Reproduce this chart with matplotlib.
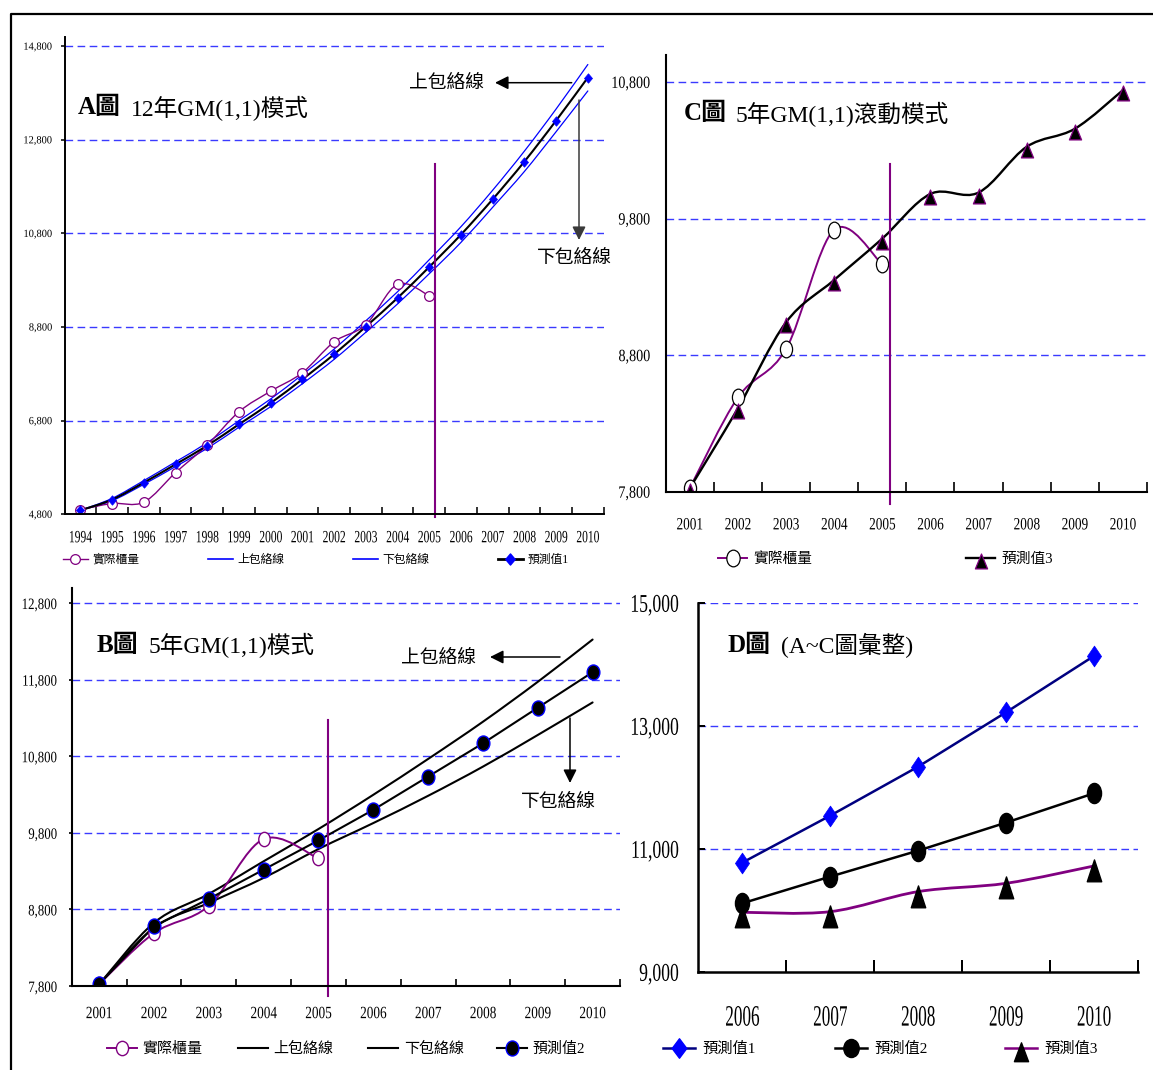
import numpy as np
import matplotlib
matplotlib.use("Agg")
import matplotlib.pyplot as plt
from matplotlib.path import Path
from matplotlib.patches import PathPatch
from matplotlib.lines import Line2D
from matplotlib.patheffects import AbstractPathEffect
from matplotlib.transforms import Affine2D

FONT = ['Liberation Serif', 'Noto Sans CJK TC']
plt.rcParams['font.family'] = FONT
plt.rcParams['axes.unicode_minus'] = False

W, H = 1153, 1070

# ---------------- data ----------------
years_a = [1994, 1995, 1996, 1997, 1998, 1999, 2000, 2001, 2002, 2003,
           2004, 2005, 2006, 2007, 2008, 2009, 2010]
actual_a = [4900, 5030, 5060, 5690, 6280, 6990, 7430, 7825, 8485, 8850, 9716, 9470]
pred1_a = [4885, 5114, 5477, 5868, 6268, 6723, 7178, 7685, 8219, 8811,
           9422, 10085, 10776, 11531, 12337, 13213, 14131]
upper_a = [4885, 5140, 5520, 5920, 6330, 6800, 7265, 7785, 8330, 8935,
           9555, 10240, 10945, 11725, 12560, 13460, 14410]
lower_a = [4885, 5090, 5440, 5820, 6210, 6660, 7100, 7590, 8110, 8690,
           9295, 9940, 10610, 11360, 12125, 12975, 13845]

years_bc = [2001, 2002, 2003, 2004, 2005, 2006, 2007, 2008, 2009, 2010]
actual_bc = [7825, 8490, 8845, 9718, 9465]
pred2_b = [7822, 8581, 8937, 9319, 9701, 10100, 10534, 10968, 11433, 11897]
upper_b = [7822, 8625, 9002, 9428, 9849, 10296, 10764, 11250, 11771, 12323]
lower_b = [7822, 8560, 8885, 9211, 9588, 9927, 10283, 10664, 11077, 11502]
pred3_c = [7825, 8410, 9040, 9350, 9653, 9980, 9990, 10325, 10457, 10740]

years_d = [2006, 2007, 2008, 2009, 2010]
pred1_d = [10783, 11547, 12344, 13228, 14144]
pred2_d = [10122, 10556, 10978, 11434, 11911]
pred3_d = [9976, 9986, 10312, 10447, 10729]

yticks_a = [4800, 6800, 8800, 10800, 12800, 14800]
yticks_c = [7800, 8800, 9800, 10800]
yticks_b = [7800, 8800, 9800, 10800, 11800, 12800]
yticks_d = [9000, 11000, 13000, 15000]

leg_a = ['實際櫃量', '上包絡線', '下包絡線', '預測值1']
leg_b = ['實際櫃量', '上包絡線', '下包絡線', '預測值2']
leg_c = ['實際櫃量', '預測值3']
leg_d = ['預測值1', '預測值2', '預測值3']

# split marker (between fitted and forecast period): just after 2005
SPLIT_YEAR = 2005
SPLIT_OFF = 0.17

PURPLE = '#800080'
BLUE = '#0000ff'
NAVY = '#000080'
GRID = '#3a3aff'


class Squeeze(AbstractPathEffect):
    """Narrow text horizontally (the reference glyphs are tall and narrow)."""
    def __init__(self, sx, anchor='center'):
        super().__init__()
        self.sx = sx
        self.anchor = anchor

    def draw_path(self, renderer, gc, tpath, affine, rgbFace=None):
        ext = tpath.transformed(affine).get_extents()
        if self.anchor == 'right':
            cx = ext.x1
        elif self.anchor == 'left':
            cx = ext.x0
        else:
            cx = 0.5 * (ext.x0 + ext.x1)
        aff = affine + Affine2D().translate(-cx, 0).scale(self.sx, 1).translate(cx, 0)
        renderer.draw_path(gc, tpath, aff, rgbFace)


def ell(aspect):
    return Path.unit_circle().transformed(Affine2D().scale(aspect, 1))


def dia(aspect):
    return Path([(0, 1), (aspect, 0), (0, -1), (-aspect, 0), (0, 1)],
                [Path.MOVETO, Path.LINETO, Path.LINETO, Path.LINETO, Path.CLOSEPOLY])


def tri(aspect):
    return Path([(0, 0.6), (aspect, -1.4), (-aspect, -1.4), (0, 0.6)],
                [Path.MOVETO, Path.LINETO, Path.LINETO, Path.CLOSEPOLY])


def smooth(ax, x, y, color, lw, z):
    x = np.asarray(x, float)
    y = np.asarray(y, float)
    n = len(x)
    verts = [(x[0], y[0])]
    codes = [Path.MOVETO]
    for i in range(n - 1):
        xp, yp = (x[i - 1], y[i - 1]) if i > 0 else (x[i], y[i])
        xn, yn = (x[i + 2], y[i + 2]) if i + 2 < n else (x[i + 1], y[i + 1])
        c1 = (x[i] + (x[i + 1] - xp) / 6.0, y[i] + (y[i + 1] - yp) / 6.0)
        c2 = (x[i + 1] - (xn - x[i]) / 6.0, y[i + 1] - (yn - y[i]) / 6.0)
        verts += [c1, c2, (x[i + 1], y[i + 1])]
        codes += [Path.CURVE4] * 3
    ax.add_patch(PathPatch(Path(verts, codes), fill=False, edgecolor=color,
                           lw=lw, zorder=z, capstyle='round', joinstyle='round'))


fig = plt.figure(figsize=(W / 100, H / 100), dpi=100)


def px(x, y):
    return (x / W, 1 - y / H)


def make_ax(l, r, t, b, cats, ylim, yticks, grid_vals,
            xfs, xsq, xpad, yfs, ysq, ypad, ydir, ylen, xlen, slw):
    ax = fig.add_axes([l / W, 1 - b / H, (r - l) / W, (b - t) / H])
    ax.set_facecolor('none')
    n = len(cats)
    ax.set_xlim(-0.5, n - 0.5)
    ax.set_ylim(*ylim)
    for s in ['top', 'right']:
        ax.spines[s].set_visible(False)
    for s in ['left', 'bottom']:
        ax.spines[s].set_linewidth(slw)
        ax.spines[s].set_zorder(9)
    ax.set_xticks(range(n), labels=[str(c) for c in cats])
    ax.set_xticks(np.arange(n) + 0.5, minor=True)
    ax.tick_params(axis='x', which='major', length=0, pad=xpad, labelsize=xfs)
    ax.tick_params(axis='x', which='minor', direction='in', length=xlen, width=slw * 0.8)
    ax.set_yticks(yticks, labels=[f"{v:,}" for v in yticks])
    ax.tick_params(axis='y', which='major', direction=ydir, length=ylen,
                   width=slw * 0.8, pad=ypad, labelsize=yfs)
    for lab in ax.get_xticklabels():
        lab.set_path_effects([Squeeze(xsq, 'center')])
    for lab in ax.get_yticklabels():
        lab.set_path_effects([Squeeze(ysq, 'right')])
    for g in grid_vals:
        ax.axhline(g, color=GRID, lw=1.0, ls=(0, (5.5, 3.2)), zorder=1)
    return ax


def legend_entry(handle, label, x, y, fs, hl, tp):
    fig.legend(handles=[handle], labels=[label], loc='center left',
               bbox_to_anchor=px(x, y), frameon=False, borderpad=0,
               borderaxespad=0, handlelength=hl, handletextpad=tp,
               numpoints=1, prop={'family': FONT, 'size': fs})


def title(x1, x2, y, bold, rest, fs=18, fs2=17):
    fig.text(*px(x1, y), bold, fontsize=fs, fontweight='bold', va='center', ha='left')
    fig.text(*px(x2, y), rest, fontsize=fs2, va='center', ha='left')


def arrow(tail, head, color='black'):
    fig.add_artist(matplotlib.patches.FancyArrowPatch(
        px(*tail), px(*head), transform=fig.transFigure, arrowstyle='-|>',
        mutation_scale=20, color=color, lw=1.1, shrinkA=0, shrinkB=0))


def note(x, y, s, fs=13.5):
    fig.text(*px(x, y), s, fontsize=fs, va='center', ha='left',
             family=['Noto Sans CJK TC'])


# ---------------- Panel A ----------------
axA = make_ax(64.5, 603.7, 36.9, 514.3, years_a, (4800, 15000), yticks_a, yticks_a[1:],
              xfs=12.4, xsq=0.67, xpad=11.5, yfs=7.9, ysq=0.95, ypad=6.4,
              ydir='out', ylen=2.7, xlen=5, slw=1.4)
xa = np.arange(len(years_a))
na = len(actual_a)
smooth(axA, xa, upper_a, BLUE, 0.9, 3)
smooth(axA, xa, lower_a, BLUE, 0.9, 3)
smooth(axA, xa[:na], actual_a, PURPLE, 1.0, 4)
smooth(axA, xa, pred1_a, 'black', 1.5, 5)
axA.plot(xa[:na], actual_a, ls='none', marker=ell(1.0), ms=7, mfc='white',
         mec=PURPLE, mew=0.9, zorder=6)
axA.plot(xa, pred1_a, ls='none', marker=dia(0.85), ms=6.8, mfc=BLUE, mec=BLUE,
         mew=0.5, zorder=7)
sa = years_a.index(SPLIT_YEAR) + SPLIT_OFF
axA.plot([sa, sa], [4736, 12280], color=PURPLE, lw=1.5, clip_on=False, zorder=8)
title(78, 131, 108, 'A圖', '12年GM(1,1)模式')
note(409, 82.7, '上包絡線')
arrow((571.7, 82.7), (495, 82.7))
arrow((579, 100), (579, 240), color='#3a3a3a')
note(537, 257, '下包絡線')

fsA = 8.5
legend_entry(Line2D([], [], color=PURPLE, lw=1, marker=ell(1.0), ms=7, mfc='white',
                    mec=PURPLE, mew=0.9), leg_a[0], 63, 560, fsA, 2.1, 0.42)
legend_entry(Line2D([], [], color=BLUE, lw=1.2), leg_a[1], 208, 560, fsA, 2.1, 0.42)
legend_entry(Line2D([], [], color=BLUE, lw=1.2), leg_a[2], 353, 560, fsA, 2.1, 0.42)
legend_entry(Line2D([], [], color='black', lw=2, marker=dia(0.85), ms=8, mfc=BLUE,
                    mec=BLUE), leg_a[3], 498, 560, fsA, 2.1, 0.42)

# ---------------- Panel C ----------------
axC = make_ax(665.7, 1147, 54.6, 491.7, years_bc, (7800, 11000), yticks_c, yticks_c[1:],
              xfs=12.4, xsq=0.77, xpad=18.5, yfs=12.4, ysq=0.82, ypad=11.3,
              ydir='out', ylen=0, xlen=7, slw=1.5)
xc = np.arange(len(years_bc))
nc = len(actual_bc)
smooth(axC, xc[:nc], actual_bc, PURPLE, 1.4, 4)
smooth(axC, xc, pred3_c, 'black', 1.7, 5)
axC.plot(xc[:nc], actual_bc, ls='none', marker=ell(0.73), ms=12, mfc='white',
         mec='black', mew=0.9, zorder=6)
axC.plot(xc, pred3_c, ls='none', marker=tri(0.82), ms=15, mfc='black', mec=PURPLE,
         mew=0.9, zorder=7)
sc = years_bc.index(SPLIT_YEAR) + SPLIT_OFF
axC.plot([sc, sc], [7710, 10199], color=PURPLE, lw=1.5, clip_on=False, zorder=8)
title(684, 736, 114, 'C圖', '5年GM(1,1)滾動模式')

fsC = 10.6
legend_entry(Line2D([], [], color=PURPLE, lw=1.4, marker=ell(0.8), ms=12, mfc='white',
                    mec='black', mew=0.9), leg_c[0], 718, 559.3, fsC, 2.0, 0.39)
legend_entry(Line2D([], [], color='black', lw=1.7, marker=tri(0.82), ms=15, mfc='black',
                    mec=PURPLE, mew=0.9), leg_c[1], 966, 559.3, fsC, 2.0, 0.39)

# ---------------- Panel B ----------------
axB = make_ax(71.7, 620, 587.7, 986, years_bc, (7800, 13000), yticks_b, yticks_b[1:],
              xfs=12.4, xsq=0.77, xpad=14.5, yfs=11.4, ysq=0.81, ypad=7.8,
              ydir='out', ylen=2.5, xlen=5.3, slw=1.5)
xb = np.arange(len(years_bc))
smooth(axB, xb, upper_b, 'black', 1.5, 3)
smooth(axB, xb, lower_b, 'black', 1.5, 3)
smooth(axB, xb[:nc], actual_bc, PURPLE, 1.4, 4)
axB.plot(xb, pred2_b, color='black', lw=1.5, zorder=5)
axB.plot(xb[:nc], actual_bc, ls='none', marker=ell(0.8), ms=10.3, mfc='white',
         mec=PURPLE, mew=1.0, zorder=6)
axB.plot(xb, pred2_b, ls='none', marker=ell(0.85), ms=10.8, mfc='black', mec=BLUE,
         mew=1.0, zorder=7)
sb = years_bc.index(SPLIT_YEAR) + SPLIT_OFF
axB.plot([sb, sb], [7670, 11276], color=PURPLE, lw=1.5, clip_on=False, zorder=8)
title(97, 149, 645, 'B圖', '5年GM(1,1)模式')
note(401, 657, '上包絡線')
arrow((560, 657), (490, 657))
arrow((570, 718), (570, 783))
note(521, 801, '下包絡線')

fsB = 10.8
legend_entry(Line2D([], [], color=PURPLE, lw=1.4, marker=ell(0.85), ms=10.3, mfc='white',
                    mec=PURPLE, mew=1.0), leg_b[0], 107, 1049.3, fsB, 2.0, 0.38)
legend_entry(Line2D([], [], color='black', lw=1.5), leg_b[1], 238, 1049.3, fsB, 2.0, 0.38)
legend_entry(Line2D([], [], color='black', lw=1.5), leg_b[2], 368, 1049.3, fsB, 2.0, 0.38)
legend_entry(Line2D([], [], color='black', lw=1.5, marker=ell(0.85), ms=10.8, mfc='black',
                    mec=BLUE, mew=1.0), leg_b[3], 497, 1049.3, fsB, 2.0, 0.38)

# ---------------- Panel D ----------------
axD = make_ax(698.3, 1138, 603.3, 972.3, years_d, (9000, 15000), yticks_d, yticks_d[1:],
              xfs=21.3, xsq=0.58, xpad=24, yfs=18.4, ysq=0.69, ypad=13.9,
              ydir='in', ylen=5, xlen=9, slw=1.8)
xd = np.arange(len(years_d))
axD.plot(xd, pred1_d, color=NAVY, lw=1.8, zorder=5, marker=dia(0.68), ms=15,
         mfc=BLUE, mec=BLUE, mew=0.5)
axD.plot(xd, pred2_d, color='black', lw=1.8, zorder=5, marker=ell(0.7), ms=14.5,
         mfc='black', mec='black')
smooth(axD, xd, pred3_d, PURPLE, 2.0, 4)
axD.plot(xd, pred3_d, ls='none', marker=tri(0.66), ms=22, mfc='black', mec='black',
         zorder=6)
title(727, 781, 645, 'D圖', '(A~C圖彙整)')

fsD = 11
legend_entry(Line2D([], [], color=NAVY, lw=1.8, marker=dia(0.75), ms=14, mfc=BLUE,
                    mec=BLUE), leg_d[0], 663, 1049, fsD, 2.1, 0.45)
legend_entry(Line2D([], [], color='black', lw=1.8, marker=ell(0.85), ms=13, mfc='black',
                    mec='black'), leg_d[1], 835, 1049, fsD, 2.1, 0.45)
legend_entry(Line2D([], [], color=PURPLE, lw=1.8, marker=tri(0.75), ms=19, mfc='black',
                    mec='black'), leg_d[2], 1005, 1049, fsD, 2.1, 0.45)

# ---------------- page frame ----------------
fig.add_artist(Line2D([11 / W, 11 / W, 1.0], [0.0, 1 - 14 / H, 1 - 14 / H],
                      transform=fig.transFigure, color='black', lw=1.6))

fig.savefig('out.png', dpi=100)
